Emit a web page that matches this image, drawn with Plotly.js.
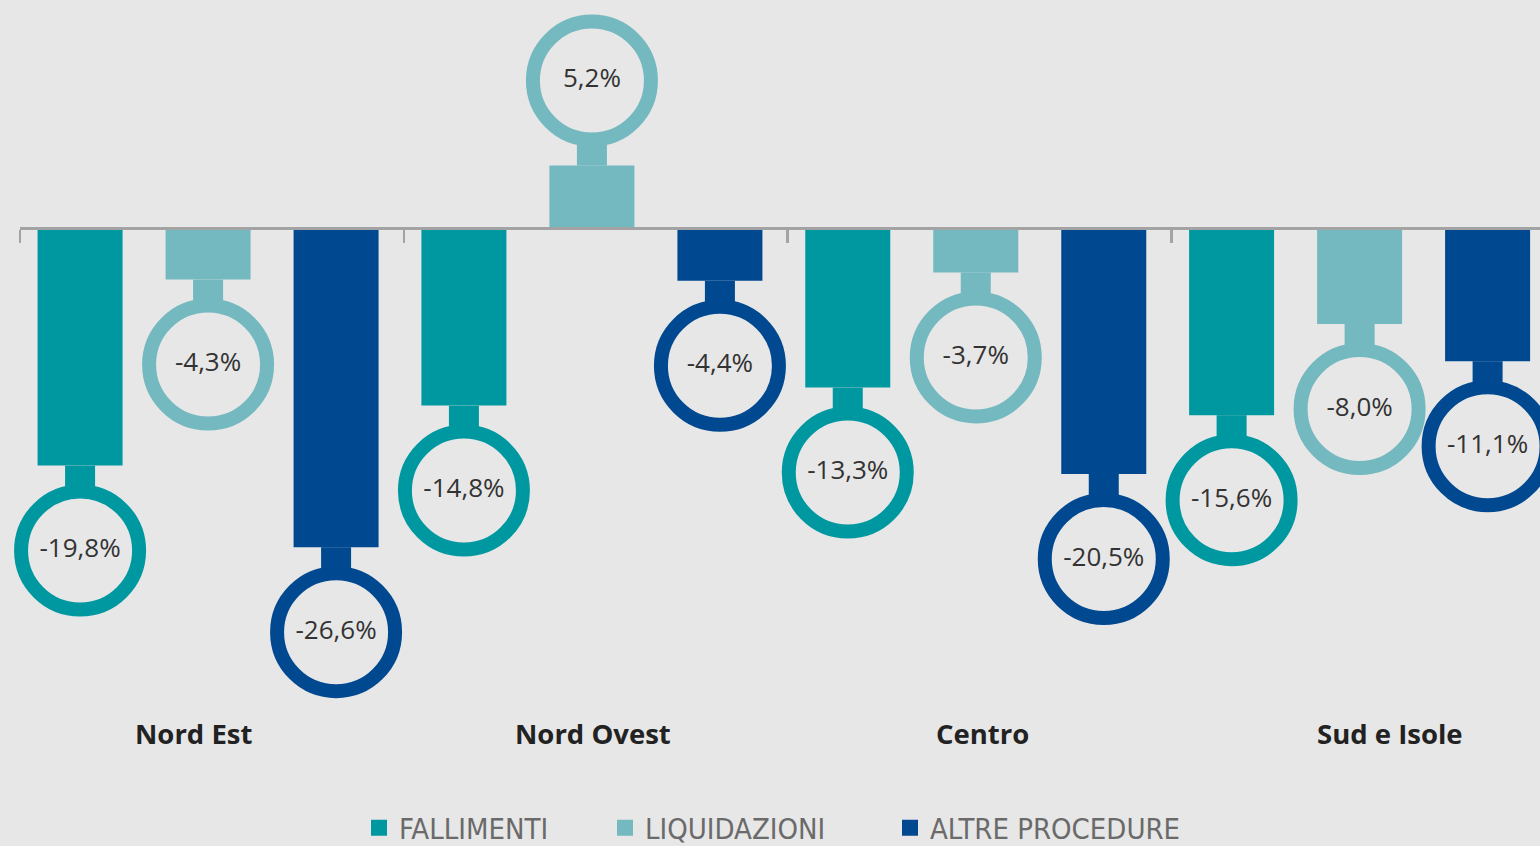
<!DOCTYPE html>
<html>
<head>
<meta charset="utf-8">
<script src="https://cdn.plot.ly/plotly-3.0.1.min.js"></script>
<style>
  html, body { margin: 0; padding: 0; background: #e7e7e7; }
  #chart { width: 1540px; height: 846px; }
</style>
</head>
<body>
<div id="chart"></div>
<script>
var categories = ['Nord Est', 'Nord Ovest', 'Centro', 'Sud e Isole'];
var fallimenti = [-19.8, -14.8, -13.3, -15.6];
var liquidazioni = [-4.3, 5.2, -3.7, -8.0];
var altreProcedure = [-26.6, -4.4, -20.5, -11.1];
var seriesNames = ['FALLIMENTI', 'LIQUIDAZIONI', 'ALTRE PROCEDURE'];
var seriesColors = ['#0098a0', '#74b9c0', '#004990'];

// geometry in pixels
var plotH = 700, zeroPx = 228, pxPerUnit = 12;
var yMax = zeroPx / pxPerUnit;
var yMin = -(plotH - zeroPx) / pxPerUnit;
var xMin = -0.49, xMax = 3.47;
var pxPerCat = 1520 / (xMax - xMin);
var barW = 85 / pxPerCat, neckW = 30 / pxPerCat, slot = 128 / pxPerCat;
var ringGap = 85 / pxPerUnit;   // bar end to ring centre
var neckLen = 26 / pxPerUnit;
var labelShift = [-15, 1, 7, 30];
var legendLeft = [359, 605, 890];   // px, left edge of each legend box

function fmt(v) { return v.toFixed(1).replace('.', ',') + '%'; }
function sgn(v) { return v < 0 ? -1 : 1; }

var idx = categories.map(function (c, i) { return i; });
var data = [];

[fallimenti, liquidazioni, altreProcedure].forEach(function (vals, k) {
  var off = (k - 1) * slot;
  var col = seriesColors[k];
  data.push({
    type: 'bar', x: idx, y: vals, name: seriesNames[k],
    width: barW, offset: off - barW / 2,
    marker: {color: col}, showlegend: false, hoverinfo: 'skip'
  });
  // neck joining bar to ring
  data.push({
    type: 'bar', x: idx, base: vals,
    y: vals.map(function (v) { return sgn(v) * neckLen; }),
    width: neckW, offset: off - neckW / 2,
    marker: {color: col}, showlegend: false, hoverinfo: 'skip'
  });
  data.push({
    type: 'scatter', mode: 'markers+text',
    x: idx.map(function (i) { return i + off; }),
    y: vals.map(function (v) { return v + sgn(v) * ringGap; }),
    text: vals.map(fmt), textposition: 'middle center',
    textfont: {family: 'Open Sans', size: 26, color: '#333333'},
    marker: {symbol: 'circle-open', size: 118, color: col, line: {width: 14, color: col}},
    cliponaxis: false, showlegend: false, hoverinfo: 'skip'
  });
  // legend entry (square swatch)
  data.push({
    type: 'scatter', mode: 'markers', x: [null], y: [null],
    name: seriesNames[k], legend: k === 0 ? 'legend' : 'legend' + (k + 1),
    marker: {symbol: 'square', size: 19, color: col}, hoverinfo: 'skip'
  });
});

var zeroFrac = (0 - yMin) / (yMax - yMin);

function legendAt(k) {
  return {
    orientation: 'h', x: (legendLeft[k] - 20) / 1520, xanchor: 'left',
    y: -(828 - plotH) / plotH, yanchor: 'middle',
    font: {family: 'DejaVu Sans Condensed, DejaVu Sans, sans-serif', size: 29, color: '#6a6a6a'},
    bgcolor: 'rgba(0,0,0,0)', itemclick: false
  };
}

var layout = {
  width: 1540, height: 846,
  paper_bgcolor: '#e7e7e7', plot_bgcolor: '#e7e7e7',
  margin: {l: 20, r: 0, t: 0, b: 846 - plotH, autoexpand: false},
  font: {family: 'Open Sans', color: '#333333'},
  barmode: 'overlay',
  showlegend: true,
  xaxis: {
    range: [xMin, xMax], anchor: 'free', position: zeroFrac,
    showgrid: false, zeroline: false,
    showline: true, linecolor: '#a3a3a3', linewidth: 2.5,
    ticks: 'outside', ticklen: 13, tickwidth: 2.5, tickcolor: '#a3a3a3',
    tickvals: idx.map(function (i) { return i + xMin; }),
    showticklabels: false, fixedrange: true
  },
  yaxis: {range: [yMin, yMax], visible: false, fixedrange: true},
  legend: legendAt(0),
  legend2: legendAt(1),
  legend3: legendAt(2),
  annotations: categories.map(function (c, i) {
    return {
      text: c, x: i, xref: 'x', y: 0, yref: 'paper',
      yanchor: 'middle', yshift: -(733 - plotH), xshift: labelShift[i],
      showarrow: false,
      font: {family: 'Open Sans', size: 27.5, weight: 'bold', color: '#222222'}
    };
  })
};

Plotly.newPlot('chart', data, layout, {displayModeBar: false, staticPlot: true});
</script>
</body>
</html>
